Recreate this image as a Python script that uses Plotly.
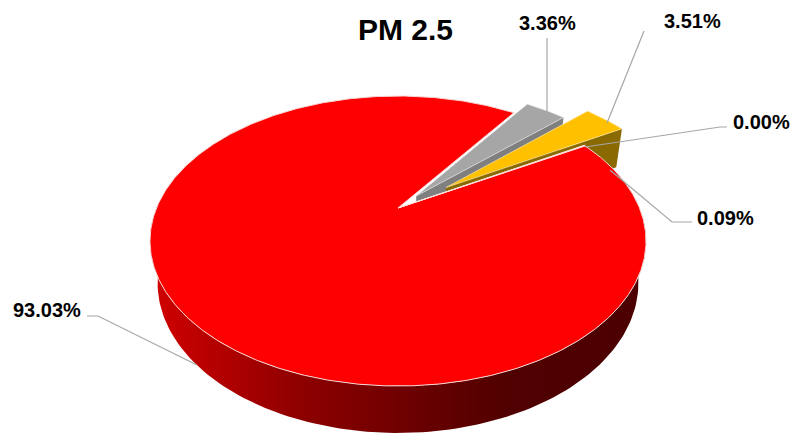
import numpy as np
import plotly.graph_objects as go

# ---- data ----
categories = ["Grey", "Orange", "Zero", "Trace", "Red"]
values = [3.36, 3.51, 0.00, 0.09, 93.03]
labels = ["3.36%", "3.51%", "0.00%", "0.09%", "93.03%"]
title_text = "PM 2.5"

# ---- styling / view ----
explode = [0.118, 0.258, 0.0, 0.0, 0.0]
top_colors = ["#a6a6a6", "#ffc000", "#ffe0e0", "#ffe0e0", "#ff0000"]
cut_colors = ["#7f7f7f", "#8a6a00", None, None, "#7a0000"]
START = 34.7
AX, AY = 398.0, 208.0
A, B, K = 241.5, 137.5, 0.2276
D, M = 43.0, -0.03
W, H = 792, 433
EDGE = "#f6d6d6"
LEADER = "#a6a6a6"


def project(u, v, z=0.0):
    u, v = np.asarray(u, float), np.asarray(v, float)
    w = 1 + K * v + M * z
    return AX + A * u / w, AY - (B * v + D * z) / w


def arc(a0, a1, n=160):
    t = np.radians(np.linspace(a0, a1, n))
    return np.sin(t), np.cos(t)


fig = go.Figure()


def poly(x, y, color, line=None, width=1.0, **kw):
    fig.add_trace(go.Scatter(
        x=np.asarray(x), y=np.asarray(y), mode="lines", fill="toself",
        fillcolor=color, hoverinfo="skip", showlegend=False,
        line=dict(color=line or color, width=width if line else 0), **kw))


total = sum(values)
edges = START + np.concatenate([[0], np.cumsum(values)]) * 360.0 / total
bis = (edges[:-1] + edges[1:]) / 2
off_u = [e * np.sin(np.radians(b)) for e, b in zip(explode, bis)]
off_v = [e * np.cos(np.radians(b)) for e, b in zip(explode, bis)]


def cut_face(i, ang):
    su, sv = np.sin(np.radians(ang)), np.cos(np.radians(ang))
    us = np.array([off_u[i], off_u[i] + su])
    vs = np.array([off_v[i], off_v[i] + sv])
    x0, y0 = project(us, vs, 0)
    x1, y1 = project(us[::-1], vs[::-1], -1)
    poly(np.r_[x0, x1], np.r_[y0, y1], cut_colors[i])


# hidden faces first
cut_face(4, edges[4])
cut_face(0, edges[1])
cut_face(1, edges[2])

# red outer wall
u, v = arc(75, 285)
xt, yt = project(u, v, 0)
xb, yb = project(u[::-1], v[::-1], -1)
fig.add_trace(go.Scatter(
    x=np.r_[xt, xb], y=np.r_[yt, yb], mode="lines", fill="toself",
    hoverinfo="skip", showlegend=False, line=dict(width=0, color="rgba(0,0,0,0)"),
    fillcolor="#800000",
    fillgradient=dict(type="horizontal", colorscale=[
        [0.0, "#d20000"], [0.3, "#8e0000"], [0.55, "#680000"],
        [0.72, "#500000"], [1.0, "#4c0000"]])))


def top(i, line=EDGE, width=1.0):
    u, v = arc(edges[i], edges[i + 1], max(2, int((edges[i + 1] - edges[i]) * 2)))
    us = np.r_[off_u[i], off_u[i] + u, off_u[i]]
    vs = np.r_[off_v[i], off_v[i] + v, off_v[i]]
    x, y = project(us, vs, 0)
    poly(x, y, top_colors[i], line=line, width=width)


top(4)
top(3, line="#ffe0e0", width=0.6)
top(2, line="#ffe0e0", width=0.6)
top(1, line="#fff0c0", width=0.6)
top(0, line="#e8e8e8", width=0.6)

# leader lines and labels
leaders = [
    ("M547,112 L547,38", labels[0], 547, 23),
    ("M607,123 L644,31", labels[1], 692, 21),
    ("M585,147 L720,127 L727,127", labels[2], 761, 122),
    ("M610,170 L672,222 L692,222", labels[3], 725, 218),
    ("M197,365 L98,316 L87,316", labels[4], 47, 310),
]
shapes = [dict(type="path", path=p, xref="x", yref="y",
               line=dict(color=LEADER, width=1.2), layer="above")
          for p, *_ in leaders]
annotations = [dict(x=x, y=y, text=f"<b>{t}</b>", showarrow=False, xref="x", yref="y",
                    font=dict(family="Liberation Sans, Arial", size=20, color="#000000"))
               for _, t, x, y in leaders]
annotations.append(dict(x=405, y=29, text=f"<b>{title_text}</b>", showarrow=False,
                        xref="x", yref="y",
                        font=dict(family="Liberation Sans, Arial", size=30, color="#000000")))

fig.update_layout(
    width=W, height=H, margin=dict(l=0, r=0, t=0, b=0),
    paper_bgcolor="white", plot_bgcolor="white", showlegend=False,
    xaxis=dict(range=[0, W], visible=False, fixedrange=True),
    yaxis=dict(range=[H, 0], visible=False, fixedrange=True),
    shapes=shapes, annotations=annotations)
fig.write_html("out.html", config={"displayModeBar": False},
               post_script="document.body.style.margin='0';document.documentElement.style.overflow='hidden';")
